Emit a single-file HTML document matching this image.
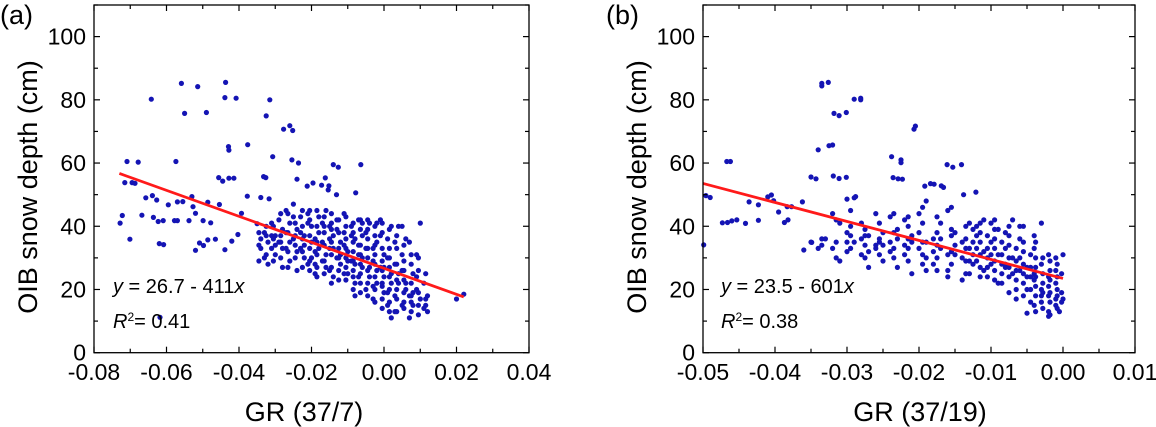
<!DOCTYPE html>
<html><head><meta charset="utf-8"><style>
html,body{margin:0;padding:0;background:#fff;}
svg{display:block;font-family:"Liberation Sans",Arial,sans-serif;}
</style></head><body>
<svg id="chart" width="1156" height="427" viewBox="0 0 1156 427" xmlns="http://www.w3.org/2000/svg"></svg>
<script>
// Panel (a) data
const aOutX=[-0.0559,-0.0514,-0.0437,-0.0439,-0.0408,-0.0642,-0.0315,-0.055,-0.049,-0.0325,-0.026,-0.0252,-0.0277,-0.0429,-0.0428,-0.0376,-0.0307,-0.0709,-0.0678,-0.0574,-0.0254,-0.0236,-0.014,-0.0126,-0.0064,-0.0456,-0.0445,-0.0428,-0.0414,-0.0332,-0.0326,-0.024,-0.0212,-0.0196,-0.0162,-0.0172,-0.0152,-0.0154,-0.0078,-0.0131,-0.0317,-0.034,-0.0377,-0.0715,-0.0695,-0.0687,-0.0657,-0.0639,-0.0627,-0.0595,-0.057,-0.0555,-0.053,-0.0527,-0.0486,-0.0454,-0.0728,-0.0722,-0.0701,-0.0668,-0.0636,-0.0623,-0.0609,-0.062,-0.0608,-0.0578,-0.057,-0.0538,-0.052,-0.052,-0.0509,-0.0498,-0.0486,-0.0499,-0.0478,-0.0465,-0.0439,-0.042,-0.0403,-0.0393,-0.0618];
const aOutY=[85.2,84.2,85.5,80.7,80.5,80.2,80,75.7,76,74.9,71.8,70.3,70.7,65.2,64.1,65.8,62,60.5,60.3,60.5,61,60,59.5,58.7,59.5,55.4,54.3,55.2,55.2,55.7,55.4,54.9,52.7,53.7,55.3,53,52.8,51.5,50.6,50,48.7,49.1,49.5,53.8,53.8,53.6,49,49.7,48.3,46.8,47.7,47.8,49.4,46.2,47.6,46.9,41,43.4,35.9,43.5,42.8,41.5,41.8,34.5,34.2,41.8,41.8,41.8,44.1,32.4,34.7,33.9,35.7,41.8,41.1,35.9,32.6,35.3,37.4,44.1,11.2];
const aCloudX=[-0.035,-0.034,-0.034,-0.033,-0.033,-0.032,-0.032,-0.031,-0.031,-0.030,-0.030,-0.029,-0.029,-0.028,-0.028,-0.027,-0.027,-0.026,-0.026,-0.025,-0.025,-0.024,-0.024,-0.023,-0.023,-0.022,-0.022,-0.021,-0.021,-0.020,-0.020,-0.019,-0.019,-0.018,-0.018,-0.017,-0.017,-0.016,-0.016,-0.015,-0.015,-0.014,-0.014,-0.013,-0.013,-0.012,-0.012,-0.011,-0.011,-0.010,-0.010,-0.009,-0.009,-0.008,-0.008,-0.008,-0.007,-0.007,-0.006,-0.006,-0.005,-0.005,-0.004,-0.004,-0.003,-0.003,-0.002,-0.002,-0.001,-0.001,0.000,0.000,0.000,0.001,0.001,0.002,0.002,0.003,0.003,0.004,0.004,0.005,0.005,0.006,0.006,0.007,0.007,0.008,0.008,0.009,0.009,0.010,0.010,0.011,0.011,0.012,0.012,0.020,0.022,
-0.030,-0.028,-0.026,-0.024,-0.022,-0.020,-0.018,-0.016,-0.014,-0.012,-0.010,-0.008,-0.006,-0.004,-0.002,0.000,0.002,0.004,0.006,0.008,
-0.031,-0.027,-0.023,-0.019,-0.015,-0.011,-0.007,-0.003,0.001,0.005,0.009,
-0.025,-0.021,-0.017,-0.013,-0.009,-0.005,-0.001,0.003,-0.019,-0.015,-0.011,-0.007,-0.003,0.001,0.003,-0.006,-0.002,0.002,0.005,0.007];
const aCloudY=[40.8,36,33,38,30,35,28,41,33,37,31,42,35,27,39,45,33,41,29,36,47,26,39,43,33,37,30,44,28,40,35,25,32,38,43,29,35,45,27,40,33,37,24,42,30,35,28,44,38,32,25,40,29,36,22,18,42,31,27,37,20,33,41,24,29,17,35,22,42,27,19,31,24,15,36,22,11,28,18,40,25,15,31,22,36,18,11,25,15,20,31,17,41,14,22,18,13,17,18.5,
34,33,35,32,34,30,33,31,33,31,29,28,30,27,26,27,25,22,20,19,
37,38,38,36,36,34,34,33,30,26,24,
43,41,41,39,37,38,37,35,28,26,25,24,21,19,13,41,41,40,40,35];
const aColX=[-0.0345,-0.0325,-0.0305,-0.0285,-0.0265,-0.0245,-0.0225,-0.0205,-0.0185,-0.0165,-0.0145,-0.0125,-0.0105,-0.0085,-0.0065,-0.0045,-0.0025,-0.0005,0.0015,0.0035,0.0055,0.0075,0.0095,0.0115];
const aColY=[[34,38,29],[37,31,40],[29,40,36],[30,35,44,37],[38,32,27,44],[41,37,30,34],[45,40,32,27,36],[42,37,33,29,26,45],[40,35,31,27,24,45],[43,38,34,29,25,40],[44,39,35,31,27,22,41],[42,38,33,30,26,23],[43,40,36,33,30,27,23],[41,38,35,32,29,26,24,20],[42,39,34,31,28,25,22,19],[42,39,36,33,30,26,22,18],[40,37,34,31,28,24,20,16],[41,38,33,29,26,22,21,17,14],[39,33,30,27,24,20,16,13],[37,33,28,23,20,17,13],[34,29,26,23,19,16,14],[31,28,22,18,16,13],[30,26,19,15,12],[25,17,15]];
// Panel (b) data
const bOutX=[-0.0335,-0.0326,-0.0335,-0.029,-0.0281,-0.0281,-0.0318,-0.0311,-0.0301,-0.0207,-0.0205,-0.034,-0.0325,-0.032,-0.0238,-0.0225,-0.0225,-0.0467,-0.0462,-0.0161,-0.0153,-0.0141,-0.035,-0.0343,-0.0319,-0.0311,-0.0301,-0.0236,-0.0229,-0.0223,-0.0192,-0.0184,-0.0179,-0.0169,-0.0166,-0.0121,-0.0138,-0.03,-0.0288,-0.0362,-0.0377,-0.0496,-0.049,-0.0436,-0.0423,-0.041,-0.0405,-0.0402,-0.0395,-0.0383,-0.0473,-0.0466,-0.046,-0.0453,-0.0441,-0.0423,-0.0387,-0.0382,-0.0499,-0.0349,-0.036];
const bOutY=[85.2,85.5,84.4,80.2,80.5,80,75.7,75,76,70.7,71.7,64.2,65.5,65.7,62,61,60.1,60.5,60.5,59.5,58.7,59.5,55.6,55,55.9,55.1,55.5,55.4,55,54.9,52.7,53.5,53.3,52.8,52.3,50.8,50,48.6,49.4,47.7,46.2,49.7,49.1,47.7,46.8,49.3,49.9,48.1,44.5,46.2,41.1,41.2,41.7,42,40.9,41.9,41.2,42,34.1,34.9,32.5];
const bCloudX=[-0.035,-0.034,-0.033,-0.032,-0.032,-0.031,-0.031,-0.030,-0.030,-0.029,-0.029,-0.028,-0.028,-0.027,-0.027,-0.026,-0.026,-0.025,-0.025,-0.024,-0.024,-0.023,-0.023,-0.022,-0.022,-0.021,-0.021,-0.020,-0.020,-0.019,-0.019,-0.018,-0.018,-0.017,-0.017,-0.016,-0.016,-0.015,-0.015,-0.014,-0.014,-0.013,-0.013,-0.012,-0.012,-0.011,-0.011,-0.010,-0.010,-0.009,-0.009,-0.008,-0.008,-0.007,-0.007,-0.006,-0.006,-0.005,-0.005,-0.004,-0.004,-0.004,-0.003,-0.003,-0.003,-0.002,-0.002,-0.002,-0.001,-0.001,-0.001,0.000,0.000,-0.0005,
-0.030,-0.028,-0.026,-0.024,-0.022,-0.020,-0.018,-0.016,-0.014,-0.012,-0.010,-0.008,-0.006,-0.004,-0.002,-0.001,-0.003,-0.005,-0.007,-0.009,-0.011,-0.013,-0.015,-0.017,-0.019,-0.021,-0.023,-0.025,-0.027,-0.012,-0.010,-0.008,-0.006,-0.004,-0.002,-0.001,-0.003,-0.005,-0.002,-0.013,-0.016,-0.019];
const bCloudY=[35,33,36,44,33,41,29,38,32,49,35,31,41,37,27,34,44,29,38,43,32,36,27,42,31,35,25,44,38,30,48,36,28,41,33,45,26,38,31,35,23,41,29,33,37,26,42,31,35,22,39,28,33,42,25,30,36,20,27,33,15,23,41,18,28,13,21,31,17,26,30,31,17,13,
35,36,33,35,34,33,32,31,30,29,28,27,26,25,24,22,20,24,30,31,32,33,34,36,35,37,39,34,32,40,41,38,40,37,18,15,16,12.5,11.5,25,24,26];
const bColX=[-0.0335,-0.0315,-0.0295,-0.0275,-0.0255,-0.0235,-0.0215,-0.0195,-0.0175,-0.0155,-0.0135,-0.0115,-0.0095,-0.0075,-0.0055,-0.0038,-0.0028,-0.0018,-0.0008,-0.0002,-0.0105,-0.0085,-0.0065,-0.0125,-0.0045];
const bColY=[[34,36],[35,42,30],[33,37,40,45],[34,37,30,39],[36,31,41,35],[33,38,44,30],[36,40,33,29,43],[31,35,41,28,46],[34,38,30,43,26],[37,32,39,28,46],[33,36,29,40,25],[31,35,27,38,41,24],[33,29,36,26,39,42,23],[30,34,27,37,24,40,19],[28,32,25,35,22,40,18],[27,30,24,21,35,18,13],[22,25,19,30,14],[26,23,19,16,29,12],[24,20,18,14,28],[25,19,16],[37,33,30,27,24],[35,31,28,25,22],[33,29,26,23,20,17],[39,35,31,28],[31,27,24,20,16]];
const yTicks=[0,20,40,60,80,100];
const aXTicks=[-0.08,-0.06,-0.04,-0.02,0.00,0.02,0.04];
const bXTicks=[-0.05,-0.04,-0.03,-0.02,-0.01,0.00,0.01];
const aFit=[26.7,-411], bFit=[23.5,-601];

const NS="http://www.w3.org/2000/svg";
const svg=document.getElementById('chart');
function mk(tag,attrs,parent,text){const e=document.createElementNS(NS,tag);for(const k in attrs)e.setAttribute(k,attrs[k]);if(text!==undefined)e.textContent=text;(parent||svg).appendChild(e);return e;}

function panel(p){
  const g=mk('g',{});
  
  
  const X=v=>p.L+(v-p.xmin)/(p.xmax-p.xmin)*(p.R-p.L);
  const Y=v=>p.B-(v/110)*(p.B-p.T);
  const pg=mk('g',{fill:'#1414b4'},g);
  
  
  const xs=p.xs.slice(), ys=p.ys.slice();
  p.colX.forEach((cx,i)=>p.colY[i].forEach(v=>{xs.push(cx);ys.push(v);}));
  for(let i=0;i<xs.length;i++){
    const c=mk('circle',{cx:X(xs[i]).toFixed(1),cy:Y(ys[i]).toFixed(1),r:2.6},pg);
    
    
  }
  const ln=mk('line',{x1:X(p.fx0),y1:Y(p.fit[0]+p.fit[1]*p.fx0),x2:X(p.fx1),y2:Y(p.fit[0]+p.fit[1]*p.fx1),stroke:'#ff1a1a','stroke-width':2.8},g);
  
  
  const fr=mk('rect',{x:p.L,y:p.T,width:p.R-p.L,height:p.B-p.T,fill:'none',stroke:'#000','stroke-width':1.3},g);
  
  
  for(let v=0;v<=110;v+=10){
    const len=(v%20===0)?6:4;const y=Y(v);
    mk('line',{x1:p.L,y1:y,x2:p.L+len,y2:y,stroke:'#000','stroke-width':1.2},g);
    mk('line',{x1:p.R,y1:y,x2:p.R-len,y2:y,stroke:'#000','stroke-width':1.2},g);
  }
  yTicks.forEach(v=>{
    const t=mk('text',{x:p.L-8,y:Y(v)+8,'text-anchor':'end','font-size':23},g,String(v));
    
    
  });
  const tk=p.xt;
  for(let i=0;i<tk.length;i++){
    const x=X(tk[i]);
    mk('line',{x1:x,y1:p.B,x2:x,y2:p.B-6,stroke:'#000','stroke-width':1.2},g);
    mk('line',{x1:x,y1:p.T,x2:x,y2:p.T+6,stroke:'#000','stroke-width':1.2},g);
    if(i<tk.length-1){const xm=X((tk[i]+tk[i+1])/2);
      mk('line',{x1:xm,y1:p.B,x2:xm,y2:p.B-4,stroke:'#000','stroke-width':1.2},g);
      mk('line',{x1:xm,y1:p.T,x2:xm,y2:p.T+4,stroke:'#000','stroke-width':1.2},g);}
    const t=mk('text',{x:x,y:380,'text-anchor':'middle','font-size':23},g,(tk[i]<0?'-':'')+Math.abs(tk[i]).toFixed(2));
    
    
  }
  const xt=mk('text',{x:p.xtx,y:421,'text-anchor':'middle','font-size':27},g,p.xtitle);
  
  
  const yt=mk('text',{x:0,y:0,'text-anchor':'middle','font-size':27,transform:`translate(${p.ytx},187) rotate(-90)`},g,'OIB snow depth (cm)');
  
  
  const lb=mk('text',{x:p.labx,y:24,'font-size':27},g,p.label);
  
  
  const eq=mk('text',{x:p.ax,y:293,'font-size':20},g);
  
  
  mk('tspan',{'font-style':'italic'},eq,'y');
  mk('tspan',{},eq,' = '+p.fit[0]+' - '+(-p.fit[1]));
  mk('tspan',{'font-style':'italic'},eq,'x');
  const r2=mk('text',{x:p.ax,y:328,'font-size':20},g);
  
  
  mk('tspan',{'font-style':'italic'},r2,'R');
  mk('tspan',{'font-size':12,dy:-7},r2,'2');
  mk('tspan',{dy:7},r2,'= '+p.r2);
}
panel({id:'a',L:94,R:529,T:5,B:352.7,xmin:-0.08,xmax:0.04,xs:aOutX.concat(aCloudX),ys:aOutY.concat(aCloudY),colX:aColX,colY:aColY,fit:aFit,fx0:-0.073,fx1:0.022,xt:aXTicks,xtitle:'GR (37/7)',xtx:304,ytx:37,labx:0,label:'(a)',ax:113,r2:'0.41'});
panel({id:'b',L:703,R:1135,T:5,B:352.7,xmin:-0.05,xmax:0.01,xs:bOutX.concat(bCloudX),ys:bOutY.concat(bCloudY),colX:bColX,colY:bColY,fit:bFit,fx0:-0.05,fx1:0.0,xt:bXTicks,xtitle:'GR (37/19)',xtx:920,ytx:646,labx:606,label:'(b)',ax:721,r2:'0.38'});
</script>
</body></html>
